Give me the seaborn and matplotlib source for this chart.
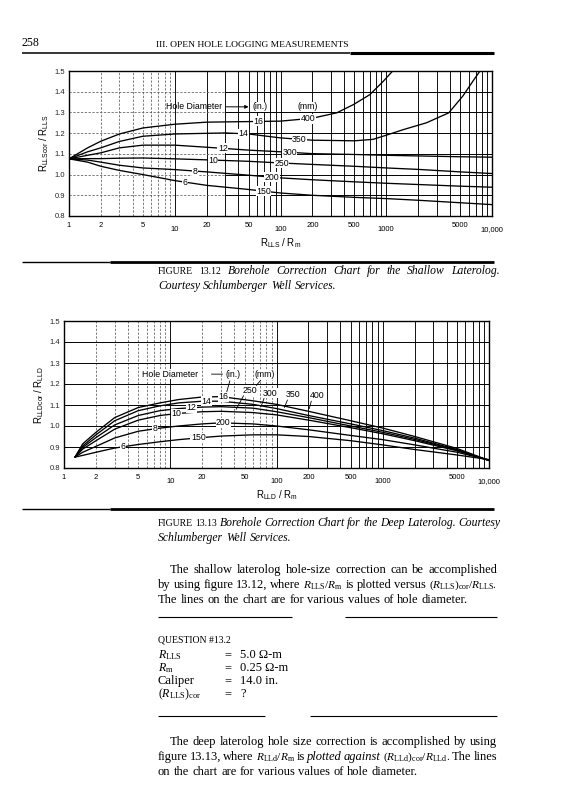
import numpy as np
import pandas as pd
import matplotlib
matplotlib.use("Agg")
import matplotlib.pyplot as plt
import seaborn as sns
from matplotlib.ticker import NullLocator

# ---------------------------------------------------------------- data
HOLE_IN = [6, 8, 10, 12, 14, 16]
HOLE_MM = [150, 200, 250, 300, 350, 400]

# Figure 13.12 -- shallow laterolog, R_LLScor/R_LLS versus R_LLS/R_m
LLS_X = [1, 1.5, 2, 3, 5, 10, 20, 50, 100, 200, 500, 1000, 2000, 5000, 10000]
LLS_6IN = [1.076, 1.06, 1.04, 1.02, 1.0, 0.971, 0.948, 0.928, 0.911, 0.90, 0.89, 0.884, 0.876, 0.864, 0.855]
LLS_8IN = [1.076, 1.07, 1.06, 1.045, 1.032, 1.024, 1.013, 0.997, 0.984, 0.975, 0.965, 0.958, 0.952, 0.944, 0.939]
LLS_10IN = [1.076, 1.077, 1.077, 1.079, 1.08, 1.076, 1.071, 1.064, 1.056, 1.049, 1.04, 1.032, 1.025, 1.013, 1.005]
LLS_12IN = [1.076, 1.093, 1.105, 1.129, 1.142, 1.142, 1.132, 1.118, 1.11, 1.101, 1.097, 1.093, 1.09, 1.086, 1.084]
LLS_14IN_X = [1, 1.5, 2, 3, 5, 10, 30, 50, 100, 200, 500, 750, 1000, 1450, 2400, 3900, 5300, 6600, 7700]
LLS_14IN = [1.076, 1.11, 1.129, 1.16, 1.185, 1.196, 1.201, 1.196, 1.177, 1.166, 1.163, 1.17, 1.19, 1.217,
            1.25, 1.298, 1.379, 1.451, 1.5]
LLS_16IN_X = [1, 1.5, 2, 3, 5, 10, 20, 100, 200, 340, 490, 700, 940, 1150]
LLS_16IN = [1.076, 1.129, 1.161, 1.196, 1.225, 1.243, 1.253, 1.258, 1.272, 1.298, 1.338, 1.386, 1.451, 1.5]

# Figure 13.13 -- deep laterolog, R_LLDcor/R_LLD versus R_LLD/R_m
LLD_X = [1.27, 1.5, 2, 3, 5, 8, 12, 20, 30, 60, 100, 200, 500, 1000, 2000, 5000, 10000]
LLD_6IN = [0.852, 0.86, 0.875, 0.895, 0.912, 0.925, 0.935, 0.945, 0.952, 0.958, 0.958, 0.95, 0.93, 0.91, 0.888, 0.862, 0.84]
LLD_8IN = [0.852, 0.875, 0.903, 0.943, 0.975, 0.99, 1.0, 1.01, 1.015, 1.01, 1.0, 0.982, 0.955, 0.935, 0.91, 0.875, 0.838]
LLD_10IN = [0.852, 0.89, 0.93, 0.985, 1.028, 1.05, 1.06, 1.068, 1.07, 1.064, 1.053, 1.028, 0.992, 0.963, 0.93, 0.882, 0.836]
LLD_12IN = [0.852, 0.898, 0.945, 1.005, 1.05, 1.073, 1.083, 1.09, 1.092, 1.085, 1.068, 1.04, 1.0, 0.97, 0.936, 0.885, 0.836]
LLD_14IN = [0.852, 0.905, 0.958, 1.025, 1.073, 1.096, 1.11, 1.118, 1.118, 1.103, 1.083, 1.05, 1.01, 0.978, 0.942, 0.888, 0.836]
LLD_16IN = [0.852, 0.915, 0.97, 1.04, 1.088, 1.11, 1.126, 1.138, 1.14, 1.12, 1.103, 1.07, 1.025, 0.99, 0.95, 0.893, 0.836]

X_TICKS = [1, 2, 5, 10, 20, 50, 100, 200, 500, 1000, 5000, 10000]
X_TICK_LABELS = ["1", "2", "5", "10", "20", "50", "100", "200", "500", "1000", "5000", "10,000"]
Y_TICKS = [0.8, 0.9, 1.0, 1.1, 1.2, 1.3, 1.4, 1.5]
Y_TICK_LABELS = ["0.8", "0.9", "1.0", "1.1", "1.2", "1.3", "1.4", "1.5"]

# ---------------------------------------------------------------- style
SANS = ["Liberation Sans", "DejaVu Sans"]
SERIF = ["Liberation Serif", "DejaVu Serif"]
sns.set_theme(style="white")
plt.rcParams["font.family"] = SANS
plt.rcParams["mathtext.fontset"] = "custom"
plt.rcParams["mathtext.rm"] = "Liberation Serif"
plt.rcParams["mathtext.it"] = "Liberation Serif:italic"
plt.rcParams["mathtext.sf"] = "Liberation Sans"
plt.rcParams["axes.edgecolor"] = "black"
plt.rcParams["text.color"] = "black"

fig = plt.figure(figsize=(5.66, 8.0), dpi=100)
fig.patch.set_facecolor("white")

# page layer in pixel units (x right, y down)
pg = fig.add_axes([0, 0, 1, 1])
pg.set_xlim(0, 566)
pg.set_ylim(800, 0)
pg.axis("off")

ax_top = fig.add_axes([69 / 566, 1 - 216 / 800, 423 / 566, 145 / 800])
ax_bot = fig.add_axes([64 / 566, 1 - 468 / 800, 425 / 566, 147 / 800])


def long_frame(curves):
    parts = [pd.DataFrame({"ratio": x, "factor": y, "hole": d}) for d, x, y in curves]
    return pd.concat(parts, ignore_index=True)


lls = long_frame([(6, LLS_X, LLS_6IN), (8, LLS_X, LLS_8IN), (10, LLS_X, LLS_10IN),
                  (12, LLS_X, LLS_12IN), (14, LLS_14IN_X, LLS_14IN), (16, LLS_16IN_X, LLS_16IN)])
lld = long_frame([(d, LLD_X, y) for d, y in zip(HOLE_IN, [LLD_6IN, LLD_8IN, LLD_10IN,
                                                          LLD_12IN, LLD_14IN, LLD_16IN])])

GRID_X = [m * 10 ** d for d in range(4) for m in range(2, 10)] + [10, 100, 1000]


def draw_grid(ax, h_dash_until, v_dash_until):
    for x in GRID_X:
        dashed = x < v_dash_until and x not in (10, 100, 1000)
        ax.axvline(x, color="0.35" if dashed else "black", lw=0.55 if dashed else 0.65,
                   ls=(0, (3, 2)) if dashed else "-", zorder=1)
    for y in Y_TICKS[1:-1]:
        if h_dash_until > 1:
            ax.hlines(y, 1, h_dash_until, color="0.35", lw=0.55, ls=(0, (3, 2)), zorder=1)
        ax.hlines(y, h_dash_until, 10000, color="black", lw=0.7, zorder=1)


def setup_chart(ax, df, xlabel, ylabel, h_dash_until, v_dash_until):
    ax.set_xscale("log")
    draw_grid(ax, h_dash_until, v_dash_until)
    sns.lineplot(data=df, x="ratio", y="factor", units="hole", estimator=None,
                 color="black", lw=0.95, ax=ax, legend=False, zorder=3)
    ax.set_xlim(1, 10000)
    ax.set_ylim(0.8, 1.5)
    ax.set_xlabel("")
    ax.set_ylabel("")
    ax.set_xticks([])
    ax.xaxis.set_minor_locator(NullLocator())
    ax.set_yticks(Y_TICKS, Y_TICK_LABELS)
    ax.tick_params(axis="y", length=0, pad=3, labelsize=5.5)
    for s in ax.spines.values():
        s.set_linewidth(1.0)
        s.set_color("black")
    for v, lab in zip(X_TICKS, X_TICK_LABELS):
        low = lab in ("10", "100", "1000", "10,000")
        ax.annotate(lab, xy=(v, 0), xycoords=("data", "axes fraction"),
                    xytext=(0, -7.5 if low else -4), textcoords="offset points",
                    ha="center", va="top", fontsize=5.5)
    ax.annotate(xlabel, xy=(0.5, 0), xycoords="axes fraction", xytext=(0, -19.5),
                textcoords="offset points", ha="center", va="center", fontsize=7)
    ax.annotate(ylabel, xy=(0, 0.5), xycoords="axes fraction", xytext=(-18, 0),
                textcoords="offset points", ha="center", va="center", fontsize=7, rotation=90)


setup_chart(ax_top, lls, r"$\mathsf{R_{LLS}\ /\ R_m}$", r"$\mathsf{R_{LLScor}\ /\ R_{LLS}}$", 30, 10)
setup_chart(ax_bot, lld, r"$\mathsf{R_{LLD}\ /\ R_m}$", r"$\mathsf{R_{LLDcor}\ /\ R_{LLD}}$", 1, 100)


def on_curve(xs, ys, x):
    return float(np.interp(np.log10(x), np.log10(xs), ys))


BOX = dict(facecolor="white", edgecolor="none", pad=0.4)


def curve_label(ax, text, xs, ys, x, dy=0.0):
    ax.text(x, on_curve(xs, ys, x) + dy, text, fontsize=6.3, ha="center", va="center",
            bbox=BOX, zorder=5)


# labels on the shallow chart
top_curves = [(LLS_X, LLS_6IN), (LLS_X, LLS_8IN), (LLS_X, LLS_10IN), (LLS_X, LLS_12IN),
              (LLS_14IN_X, LLS_14IN), (LLS_16IN_X, LLS_16IN)]
for (xs, ys), d, mm, xi, xm in zip(top_curves, HOLE_IN, HOLE_MM,
                                   [12.6, 15.6, 23, 28.5, 44.6, 61.6],
                                   [69, 83, 102, 122, 151, 181]):
    curve_label(ax_top, str(d), xs, ys, xi)
    curve_label(ax_top, str(mm), xs, ys, xm)
ax_top.text(15.1, 1.327, "Hole Diameter", fontsize=6.3, ha="center", va="center", zorder=5)
ax_top.annotate("", xy=(53, 1.327), xytext=(29, 1.327),
                arrowprops=dict(arrowstyle="-|>", lw=0.7, color="black", mutation_scale=5), zorder=5)
ax_top.text(64.6, 1.327, "(in.)", fontsize=6.3, ha="center", va="center", zorder=5, bbox=BOX)
ax_top.text(181, 1.327, "(mm)", fontsize=6.3, ha="center", va="center", zorder=5, bbox=BOX)

# labels on the deep chart
bot_curves = [LLD_6IN, LLD_8IN, LLD_10IN, LLD_12IN, LLD_14IN, LLD_16IN]
for ys, d, xi in zip(bot_curves, HOLE_IN, [3.6, 7.2, 11.5, 15.9, 22, 31.6]):
    curve_label(ax_bot, str(d), LLD_X, ys, xi)
curve_label(ax_bot, "150", LLD_X, LLD_6IN, 18.4)
curve_label(ax_bot, "200", LLD_X, LLD_8IN, 31.6)
for ys, mm, xl, yl, xt in zip(bot_curves[2:], HOLE_MM[2:], [56, 86.6, 144, 240], [1.169, 1.157, 1.149, 1.144],
                              [40.5, 70, 116, 200]):
    ax_bot.text(xl, yl, str(mm), fontsize=6.3, ha="center", va="center", zorder=5, bbox=BOX)
    ax_bot.annotate("", xy=(xt, on_curve(LLD_X, ys, xt)), xytext=(xl * 0.9, yl - 0.013),
                    arrowprops=dict(arrowstyle="-", lw=0.6, color="black"), zorder=5)
ax_bot.text(9.9, 1.247, "Hole Diameter", fontsize=6.3, ha="center", va="center", zorder=5, bbox=BOX)
ax_bot.text(39.3, 1.243, "(in.)", fontsize=6.3, ha="center", va="center", zorder=5, bbox=BOX)
ax_bot.text(78, 1.243, "(mm)", fontsize=6.3, ha="center", va="center", zorder=5, bbox=BOX)
ax_bot.annotate("", xy=(33.5, on_curve(LLD_X, LLD_16IN, 31.6) + 0.012), xytext=(37, 1.228),
                arrowprops=dict(arrowstyle="-", lw=0.6, color="black"), zorder=5)
ax_bot.annotate("", xy=(62, 1.183), xytext=(74, 1.228),
                arrowprops=dict(arrowstyle="-", lw=0.6, color="black"), zorder=5)
ax_bot.annotate("", xy=(33, 1.247), xytext=(23, 1.247),
                arrowprops=dict(arrowstyle="-", lw=0.6, color="black"), zorder=5)

# ---------------------------------------------------------------- page text
renderer = fig.canvas.get_renderer()


def put_line(x0, x1, y, segments, size, justify=True):
    words = []
    for seg in segments:
        text, style = seg[0], seg[1]
        sz = seg[2] if len(seg) > 2 else size
        for w in text.split(" "):
            if w:
                words.append(pg.text(x0, y, w, fontsize=sz, style=style, family=SERIF,
                                     va="baseline", ha="left"))
    widths = [t.get_window_extent(renderer).width for t in words]
    gap = 0.27 * size * 100 / 72
    if justify and len(words) > 1:
        gap = (x1 - x0 - sum(widths)) / (len(words) - 1)
    x = x0
    for t, wd in zip(words, widths):
        t.set_x(x)
        x += wd + gap


def rule(x0, x1, y, lw):
    pg.plot([x0, x1], [y, y], color="black", lw=lw, solid_capstyle="butt")


# running head
pg.text(22, 46, "258", family=SERIF, fontsize=8.5, va="baseline")
pg.text(252, 47, "III. OPEN HOLE LOGGING MEASUREMENTS", family=SERIF, fontsize=6.8,
        ha="center", va="baseline")
rule(22, 350, 52.5, 1.1)
rule(350, 494, 52.5, 2.2)

CAP = 8.4
# caption rules and captions
rule(22, 110, 262, 1.0)
rule(110, 494, 262, 2.0)
put_line(158, 500, 274, [("FIGURE 13.12", "normal", 7.0),
                         ("Borehole Correction Chart for the Shallow Laterolog.", "italic")], CAP)
put_line(158, 500, 289, [("Courtesy Schlumberger Well Services.", "italic")], CAP, justify=False)

rule(22, 110, 509, 1.0)
rule(110, 494, 509, 2.0)
put_line(158, 500, 526, [("FIGURE 13.13", "normal", 7.0),
                         ("Borehole Correction Chart for the Deep Laterolog. Courtesy", "italic")], CAP)
put_line(158, 500, 541, [("Schlumberger Well Services.", "italic")], CAP, justify=False)

BODY = 9.0
MATH = 8.2
put_line(170, 497, 573, [("The shallow laterolog hole-size correction can be accomplished", "normal")], BODY)
put_line(158, 497, 588, [("by using figure 13.12, where", "normal"),
                         (r"$R_\mathrm{LLS}/R_\mathrm{m}$", "normal", MATH),
                         ("is plotted versus", "normal"),
                         (r"$(R_\mathrm{LLS})_\mathrm{cor}/R_\mathrm{LLS}$.", "normal", MATH)], BODY)
put_line(158, 497, 603, [("The lines on the chart are for various values of hole diameter.", "normal")],
         BODY, justify=False)

rule(158, 292, 617, 0.8)
rule(345, 497, 617, 0.8)

pg.text(158, 643, "QUESTION #13.2", family=SERIF, fontsize=7.0, va="baseline")
Q_NAMES = [r"$R_\mathrm{LLS}$", r"$R_\mathrm{m}$", "Caliper", r"$(R_\mathrm{LLS})_\mathrm{cor}$"]
Q_VALUES = ["5.0 \u03a9-m", "0.25 \u03a9-m", "14.0 in.", "?"]
for i, (name, val) in enumerate(zip(Q_NAMES, Q_VALUES)):
    yb = 658 + 13 * i
    pg.text(158, yb, name, family=SERIF, fontsize=BODY if i == 2 else MATH + 0.4, va="baseline")
    pg.text(224, yb, "=", family=SERIF, fontsize=BODY, va="baseline")
    pg.text(240, yb, val, family=SERIF, fontsize=BODY, va="baseline")

rule(158, 265, 716, 0.8)
rule(310, 497, 716, 0.8)

put_line(170, 497, 745, [("The deep laterolog hole size correction is accomplished by using", "normal")], BODY)
put_line(158, 497, 760, [("figure 13.13, where", "normal"),
                         (r"$R_\mathrm{LLd}/R_\mathrm{m}$", "normal", MATH),
                         ("is", "normal"), ("plotted against", "italic"),
                         (r"$(R_\mathrm{LLd})_\mathrm{cor}/R_\mathrm{LLd}$.", "normal", MATH),
                         ("The lines", "normal")], BODY)
put_line(158, 497, 775, [("on the chart are for various values of hole diameter.", "normal")],
         BODY, justify=False)

fig.savefig("out.png", dpi=100, facecolor="white")
